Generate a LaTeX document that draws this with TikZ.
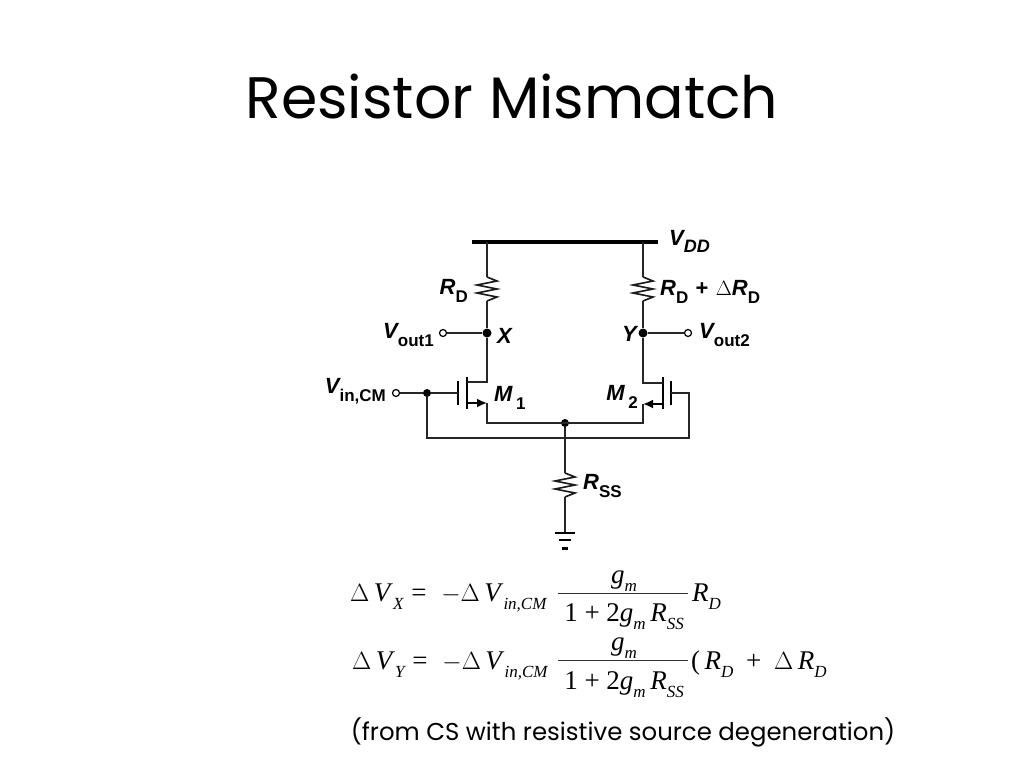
\documentclass[tikz,border=0pt]{standalone}
\usepackage{fontspec}
\usetikzlibrary{arrows.meta}
\setmainfont{Liberation Serif}
\newfontfamily\titlefont{Poppins}
\newfontfamily\capfont{Poppins}
\newfontfamily\labfont{Liberation Sans}
\newcommand\fsz[1]{\fontsize{#1}{#1}\selectfont}
\newcommand\Lsub[1]{\raisebox{-0.36em}{\fsz{17}\bfseries\upshape #1}}
\newcommand\Esub[1]{\raisebox{-0.3em}{\fsz{17}\itshape #1}}
\newcommand\Var[1]{\textit{#1}}
\newcommand\Gap{\hspace{8pt}}
\tikzset{
  wire/.style={line width=1.5pt,black!85},
  plate/.style={line width=2.8pt,black},
  rail/.style={line width=3.6pt,black},
  dot/.style={circle,fill=black,inner sep=0pt,minimum size=9pt},
  port/.style={circle,draw=black,fill=white,line width=1.2pt,inner sep=0pt,minimum size=7pt},
  lab/.style={font=\labfont\fsz{22}\bfseries\itshape,inner sep=0pt},
  eqn/.style={font=\fsz{27},inner sep=0pt},
  frac/.style={line width=1pt,black!80},
  arrowt/.style={-{Latex[length=10pt,width=9pt]},line width=1.8pt}
}
\newcommand\zig[3]{%
  \coordinate (#1a) at (#2,#3);
  \coordinate (#1b) at (#2,#3+24);
  \draw[line width=1.6pt,black!90,line join=miter] (#1a) -- ++(10,4) -- ++(-20,4) -- ++(20,4) -- ++(-20,4) -- ++(20,4) -- ++(-10,4);
}
\begin{document}
\begin{tikzpicture}[x=1pt,y=-1pt]
\useasboundingbox (0,0) rectangle (1024,768);
\fill[white] (0,0) rectangle (1024,768);
% title
\node[font=\titlefont\fsz{58.5},inner sep=0pt,anchor=base] (title) at (512,118) {Resistor Mismatch};
% rail
\coordinate (railL) at (472,242);
\coordinate (railR) at (658,242);
\coordinate (tapL) at (487,242);
\coordinate (tapR) at (643,242);
\draw[rail] (railL) -- (railR);
\node[lab,anchor=west] (vdd) at (669,241) {V\raisebox{-0.32em}{\fsz{18}\bfseries\itshape DD}};
% resistors
\zig{rl}{487}{277}
\zig{rr}{643}{277}
\zig{rs}{565}{473}
\node[lab,anchor=east] (rdl) at (468,291) {R\Lsub{D}};
\node[lab,anchor=west] (rdr) at (660,292) {R\Lsub{D}\,\,{\upshape\bfseries +}\,\,{\upshape\fsz{20}$\Delta$}R\Lsub{D}};
\node[lab,anchor=west] (rss) at (583,486) {R\Lsub{SS}};
% junctions and ports
\node[dot] (X) at (487,333) {};
\node[dot] (Y) at (643,333) {};
\node[port] (pv1) at (443,333) {};
\node[port] (pv2) at (688,333) {};
\node[port] (pin) at (396,393) {};
\node[dot,minimum size=8pt] (G) at (427,393) {};
\node[dot,minimum size=8pt] (S) at (565,423) {};
\node[lab,anchor=east] (vo1) at (434,335) {V\Lsub{out1}};
\node[lab,anchor=west] (vo2) at (699,335) {V\Lsub{out2}};
\node[lab,anchor=west] (xl) at (497,336) {X};
\node[lab,anchor=east] (yl) at (637,334) {Y};
\node[lab,anchor=east] (vin) at (386,391) {V\Lsub{in,CM}};
\node[lab,anchor=west] (m1) at (494,398) {M\,\Lsub{1}};
\node[lab,anchor=east] (m2) at (638,397) {M\,\Lsub{2}};
% M1 geometry
\coordinate (g1t) at (458,381); \coordinate (g1b) at (458,405);
\coordinate (c1t) at (467,377); \coordinate (c1b) at (467,409);
\coordinate (d1i) at (467,382); \coordinate (d1o) at (487,382);
\coordinate (s1i) at (467,403); \coordinate (s1o) at (487,403);
\coordinate (g1w) at (458,393);
% M2 geometry
\coordinate (g2t) at (671,381); \coordinate (g2b) at (671,405);
\coordinate (c2t) at (663,377); \coordinate (c2b) at (663,409);
\coordinate (d2i) at (663,383); \coordinate (d2o) at (643,383);
\coordinate (s2i) at (663,404); \coordinate (s2o) at (643,404);
\coordinate (g2w) at (671,393);
% bus corners
\coordinate (b1) at (487,423); \coordinate (b2) at (643,423);
\coordinate (l1) at (427,438); \coordinate (l2) at (689,438);
\coordinate (l2t) at (689,393);
\coordinate (gnd) at (565,533);
\draw[plate] (g1t) -- (g1b);
\draw[plate] (c1t) -- (c1b);
\draw[plate] (g2t) -- (g2b);
\draw[plate] (c2t) -- (c2b);
% wires
\draw[wire] (tapL) -- (rla);
\draw[wire] (rlb) -- (X);
\draw[wire] (tapR) -- (rra);
\draw[wire] (rrb) -- (Y);
\draw[wire] (pv1) -- (X);
\draw[wire] (Y) -- (pv2);
\draw[wire] (X) -- (d1o) -- (d1i);
\draw[wire] (Y) -- (d2o) -- (d2i);
\draw[wire] (pin) -- (G);
\draw[wire] (G) -- (g1w);
\draw[wire] (G) -- (l1) -- (l2) -- (l2t) -- (g2w);
\draw[wire] (s1o) -- (b1) -- (b2) -- (s2o);
\draw[arrowt] (s1i) -- (s1o);
\draw[arrowt] (s2i) -- (s2o);
\draw[wire] (S) -- (rsa);
\draw[wire] (rsb) -- (gnd);
% ground
\draw[line width=2.8pt] (555,533) -- (575,533);
\draw[line width=2.2pt] (559,540) -- (571,540);
\draw[line width=3pt] (562,548) -- (568,548);
% equation 1
\node[eqn,anchor=base west] (e1l) at (350,601) {$\Delta$\,\Var{V}\Esub{X}\Gap = \Gap$-\Delta$\,\Var{V}\Esub{in,CM}};
\coordinate (f1a) at (558,593); \coordinate (f1b) at (688,593);
\draw[frac] (f1a) -- (f1b);
\node[eqn,anchor=base] (e1n) at (624,583) {\Var{g}\Esub{m}};
\node[eqn,anchor=base] (e1d) at (624,621) {1 + 2\Var{g}\Esub{m}\,\Var{R}\Esub{SS}};
\node[eqn,anchor=base west] (e1r) at (692,601) {\Var{R}\Esub{D}};
% equation 2
\node[eqn,anchor=base west] (e2l) at (352,669) {$\Delta$\,\Var{V}\Esub{Y}\Gap = \Gap$-\Delta$\,\Var{V}\Esub{in,CM}};
\coordinate (f2a) at (558,660); \coordinate (f2b) at (688,660);
\draw[frac] (f2a) -- (f2b);
\node[eqn,anchor=base] (e2n) at (624,650) {\Var{g}\Esub{m}};
\node[eqn,anchor=base] (e2d) at (624,689) {1 + 2\Var{g}\Esub{m}\,\Var{R}\Esub{SS}};
\node[eqn,anchor=base west] (e2r) at (691,669) {(\,\Var{R}\Esub{D}\hspace{6pt} + \hspace{6pt}$\Delta$\,\Var{R}\Esub{D}\,\,)};
\fill[white] (831,640) rectangle (870,695);
% caption
\node[font=\capfont\fsz{24.4},inner sep=0pt,anchor=base] (cap) at (623,740) {(from CS with resistive source degeneration)};
\end{tikzpicture}
\end{document}
